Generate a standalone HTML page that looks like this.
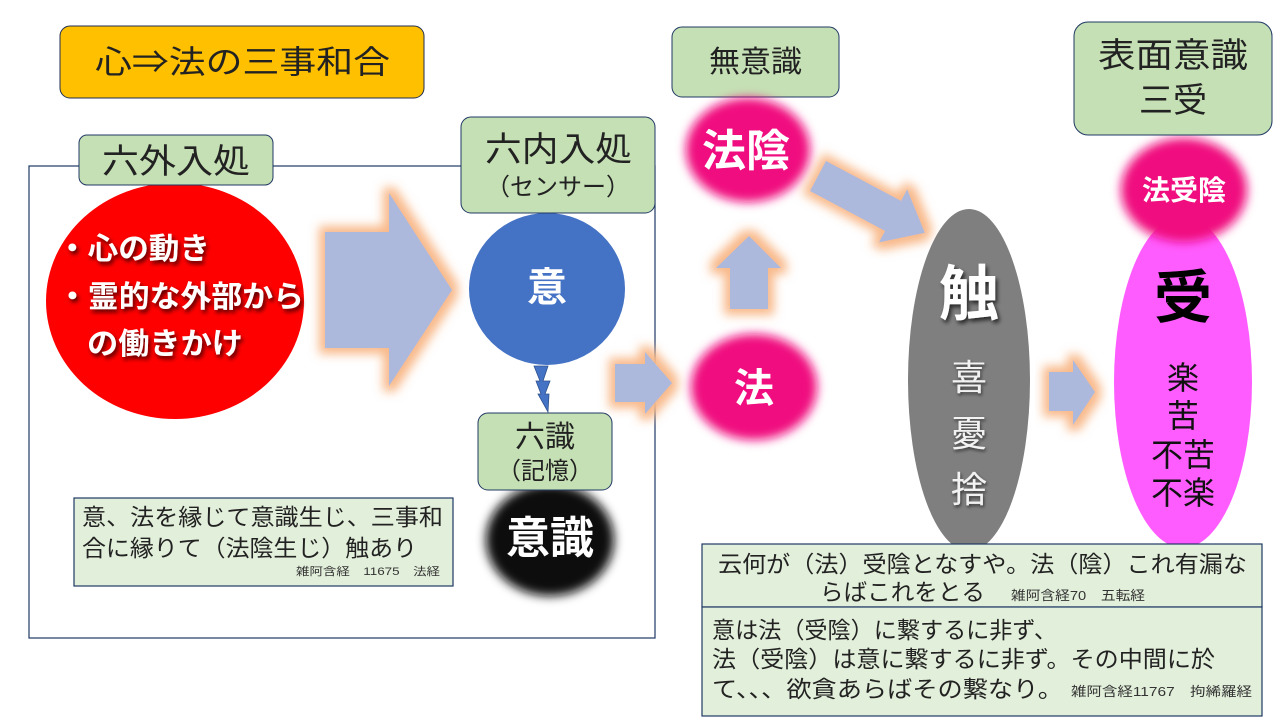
<!DOCTYPE html>
<html><head><meta charset="utf-8">
<style>
html,body{margin:0;padding:0;background:#fff;}
svg{display:block;}
text{font-family:"Liberation Sans","Noto Sans CJK JP",sans-serif;}
</style></head>
<body>
<svg width="1280" height="720" viewBox="0 0 1280 720" xmlns="http://www.w3.org/2000/svg">
<defs>
<filter id="glow" x="-30%" y="-30%" width="160%" height="160%">
  <feMorphology in="SourceAlpha" operator="dilate" radius="6" result="d"/>
  <feGaussianBlur in="d" stdDeviation="5" result="b"/>
  <feFlood flood-color="#F8B98A" result="c"/>
  <feComposite in="c" in2="b" operator="in" result="g"/>
  <feMerge><feMergeNode in="g"/><feMergeNode in="SourceGraphic"/></feMerge>
</filter>
<filter id="soft" x="-20%" y="-20%" width="140%" height="140%">
  <feGaussianBlur stdDeviation="5"/>
</filter>
<filter id="ts" x="-20%" y="-20%" width="140%" height="140%">
  <feDropShadow dx="2" dy="3" stdDeviation="2" flood-color="#000" flood-opacity="0.7"/>
</filter>
<filter id="ts2" x="-20%" y="-20%" width="140%" height="140%">
  <feDropShadow dx="1" dy="2" stdDeviation="1.5" flood-color="#000" flood-opacity="0.6"/>
</filter>
</defs>

<rect x="60" y="26" width="364" height="72" rx="10" fill="#FFC000" stroke="#1F2D50" stroke-width="1"/>
<text x="95" y="73" font-size="32" textLength="295" lengthAdjust="spacingAndGlyphs" fill="#222">心⇒法の三事和合</text>

<rect x="29" y="166" width="626" height="472" fill="none" stroke="#1F3864" stroke-width="1.2"/>

<ellipse cx="175" cy="301" rx="129" ry="118" fill="#FF0000"/>
<g filter="url(#ts)" fill="#fff" font-weight="bold" font-size="30">
<text x="57" y="259" textLength="153" lengthAdjust="spacingAndGlyphs">・心の動き</text>
<text x="57" y="307" textLength="247" lengthAdjust="spacingAndGlyphs">・霊的な外部から</text>
<text x="87" y="354" textLength="156" lengthAdjust="spacingAndGlyphs">の働きかけ</text>
</g>

<rect x="79" y="135" width="194" height="50" rx="8" fill="#C5E0B4" stroke="#1F3864" stroke-width="1"/>
<text x="102" y="173" font-size="34" textLength="148" lengthAdjust="spacingAndGlyphs" fill="#222">六外入処</text>

<polygon filter="url(#glow)" points="325,232 389,232 389,193 452,290 389,386 389,348 325,348" fill="#ACB9DC"/>

<ellipse cx="547" cy="289" rx="78" ry="76" fill="#4472C4"/>
<text x="547" y="301" font-size="40" font-weight="bold" text-anchor="middle" fill="#fff">意</text>

<rect x="461" y="117" width="194" height="96" rx="10" fill="#C5E0B4" stroke="#1F3864" stroke-width="1"/>
<text x="485" y="161" font-size="34" textLength="147" lengthAdjust="spacingAndGlyphs" fill="#222">六内入処</text>
<text x="558" y="195" font-size="24" text-anchor="middle" fill="#222">（センサー）</text>

<polygon points="534,366 548,366 543,381 550,381 545,394 549,394 548,412 538,394 541,394 536,381 540,381" fill="#4472C4" stroke="#2F528F" stroke-width="0.8"/>

<ellipse cx="550" cy="540" rx="64" ry="56" fill="#0D0D0D" filter="url(#soft)"/>
<text x="550" y="553" font-size="44" font-weight="bold" text-anchor="middle" fill="#fff">意識</text>

<rect x="478" y="413" width="134" height="77" rx="10" fill="#C5E0B4" stroke="#1F3864" stroke-width="1"/>
<text x="545" y="447" font-size="30" text-anchor="middle" fill="#222">六識</text>
<text x="545" y="479" font-size="24" text-anchor="middle" fill="#222">（記憶）</text>

<rect x="74" y="498" width="379" height="88" fill="#E2EFDA" stroke="#1F3864" stroke-width="1.2"/>
<text x="82" y="525" font-size="23" textLength="361" lengthAdjust="spacingAndGlyphs" fill="#222">意、法を縁じて意識生じ、三事和</text>
<text x="82" y="556" font-size="23" textLength="335" lengthAdjust="spacingAndGlyphs" fill="#222">合に縁りて（法陰生じ）触あり</text>
<text x="296" y="575" font-size="11" textLength="144" lengthAdjust="spacingAndGlyphs" fill="#333">雑阿含経　11675　法経</text>

<polygon filter="url(#glow)" points="615,364 645,364 645,352 672,383 645,414 645,402 615,402" fill="#ACB9DC"/>

<rect x="672" y="27" width="167" height="70" rx="10" fill="#C5E0B4" stroke="#1F3864" stroke-width="1"/>
<text x="709" y="72" font-size="30" textLength="93" lengthAdjust="spacingAndGlyphs" fill="#222">無意識</text>

<ellipse cx="748" cy="150" rx="62" ry="52" fill="#F0107F" filter="url(#soft)"/>
<text x="746" y="166" font-size="44" font-weight="bold" text-anchor="middle" fill="#fff">法陰</text>

<polygon filter="url(#glow)" points="730,309 768,309 768,268 781,268 749,236 716,268 730,268" fill="#ACB9DC"/>

<ellipse cx="754" cy="387" rx="63" ry="53" fill="#F0107F" filter="url(#soft)"/>
<text x="754" y="402" font-size="40" font-weight="bold" text-anchor="middle" fill="#fff">法</text>

<g transform="translate(818,176) rotate(28)">
<polygon filter="url(#glow)" points="0,-17 85,-17 85,-30 121,0 85,30 85,17 0,17" fill="#ACB9DC"/>
</g>

<ellipse cx="969" cy="380" rx="61" ry="171" fill="#7F7F7F"/>
<text x="969" y="315" font-size="60" font-weight="bold" text-anchor="middle" fill="#fff" filter="url(#ts)">触</text>
<g font-size="36" text-anchor="middle" fill="#f2f2f2" filter="url(#ts2)">
<text x="969" y="390">喜</text>
<text x="969" y="446">憂</text>
<text x="969" y="502">捨</text>
</g>

<polygon filter="url(#glow)" points="1049,372 1073,372 1073,360 1095,392 1073,425 1073,411 1049,411" fill="#ACB9DC"/>

<ellipse cx="1183" cy="382" rx="69" ry="166" fill="#FF5CFF"/>
<text x="1183" y="318" font-size="58" font-weight="bold" text-anchor="middle" fill="#000">受</text>
<g font-size="32" text-anchor="middle" fill="#111">
<text x="1183" y="389">楽</text>
<text x="1183" y="427">苦</text>
<text x="1183" y="466">不苦</text>
<text x="1183" y="504">不楽</text>
</g>

<ellipse cx="1184" cy="190" rx="63" ry="52" fill="#F0107F" filter="url(#soft)"/>
<text x="1184" y="200" font-size="28" font-weight="bold" text-anchor="middle" fill="#fff">法受陰</text>

<rect x="1074" y="22" width="198" height="113" rx="14" fill="#C5E0B4" stroke="#1F3864" stroke-width="1"/>
<text x="1098" y="67" font-size="34" textLength="150" lengthAdjust="spacingAndGlyphs" fill="#222">表面意識</text>
<text x="1173" y="112" font-size="34" text-anchor="middle" fill="#222">三受</text>

<rect x="702" y="544" width="560" height="63" fill="#E2EFDA" stroke="#1F3864" stroke-width="1.2"/>
<text x="718" y="572" font-size="23" textLength="529" lengthAdjust="spacingAndGlyphs" fill="#222">云何が（法）受陰となすや。法（陰）これ有漏な</text>
<text x="820" y="600" font-size="23" textLength="165" lengthAdjust="spacingAndGlyphs" fill="#222">らばこれをとる</text>
<text x="1011" y="600" font-size="13" textLength="134" lengthAdjust="spacingAndGlyphs" fill="#333">雑阿含経70　五転経</text>
<rect x="702" y="607" width="560" height="109" fill="#E2EFDA" stroke="#1F3864" stroke-width="1.2"/>
<text x="712" y="638" font-size="23" textLength="345" lengthAdjust="spacingAndGlyphs" fill="#222">意は法（受陰）に繋するに非ず、</text>
<text x="712" y="667" font-size="23" textLength="503" lengthAdjust="spacingAndGlyphs" fill="#222">法（受陰）は意に繋するに非ず。その中間に於</text>
<text x="712" y="697" font-size="23" textLength="351" lengthAdjust="spacingAndGlyphs" fill="#222">て、、、欲貪あらばその繋なり。</text>
<text x="1071" y="696" font-size="13" textLength="181" lengthAdjust="spacingAndGlyphs" fill="#333">雑阿含経11767　拘絺羅経</text>
</svg>
</body></html>
